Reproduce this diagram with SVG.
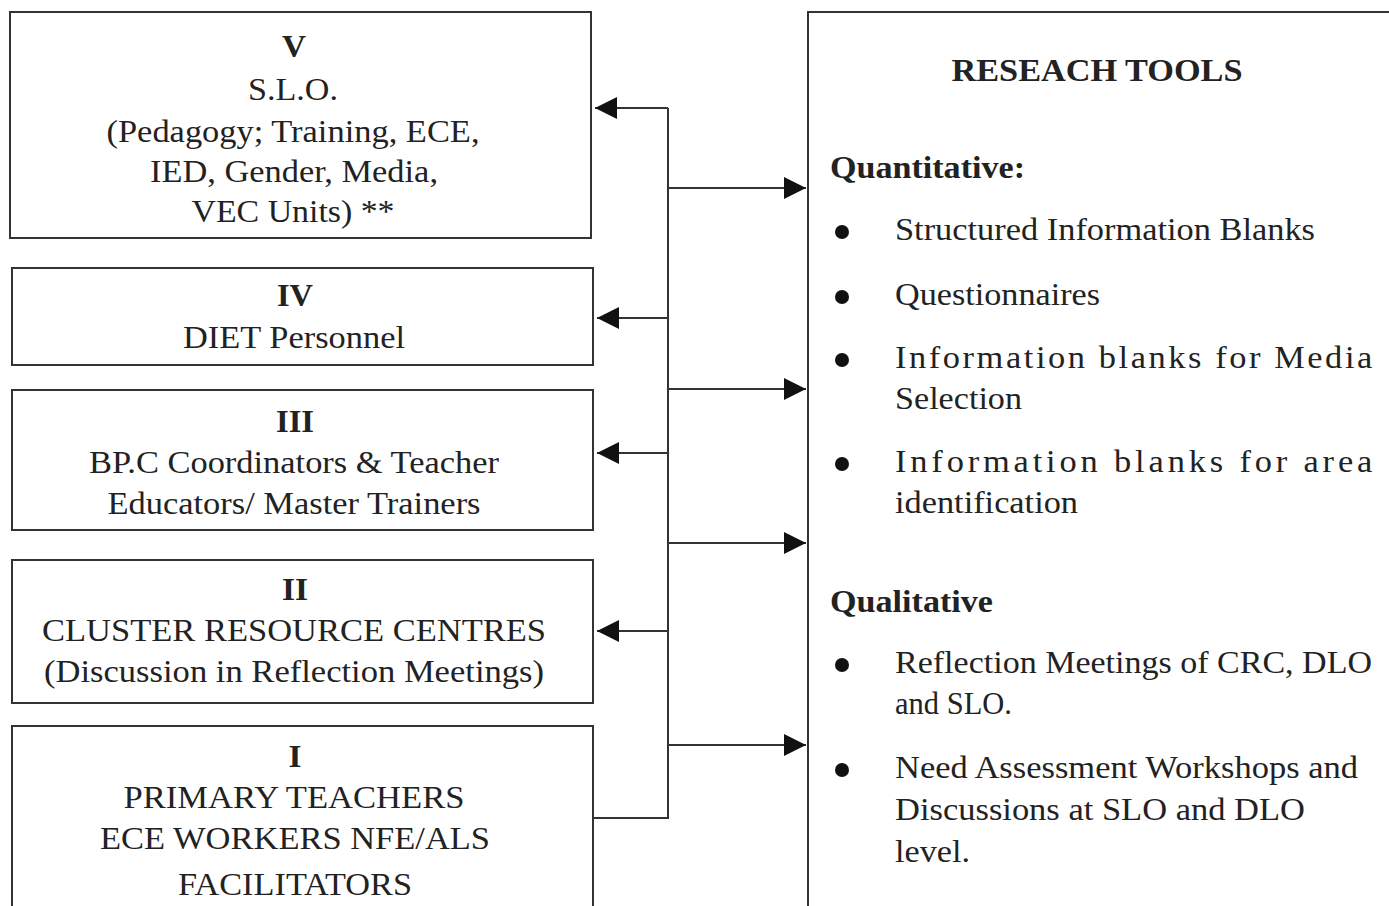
<svg xmlns="http://www.w3.org/2000/svg" width="1389" height="906" viewBox="0 0 1389 906">
<defs>
<style>
.box{fill:#fff;stroke:#333;stroke-width:2}
.t{font-family:"Liberation Serif","Times New Roman",serif;font-size:31px;fill:#222}
.c{text-anchor:middle}
.b{font-weight:bold}
.ln{fill:none;stroke:#333;stroke-width:2}
</style>
<marker id="ah" viewBox="0 0 10 10" refX="10" refY="5" markerWidth="22" markerHeight="22" markerUnits="userSpaceOnUse" orient="auto">
<path d="M0,0 L10,5 L0,10 z" fill="#111"/>
</marker>
</defs>
<rect width="1389" height="906" fill="#fff"/>
<g id="node-v">
<rect class="box" x="10" y="12" width="581" height="226"/>
<text class="t c b" x="294" y="57" textLength="24" lengthAdjust="spacingAndGlyphs">V</text>
<text class="t c" x="293" y="100" textLength="90" lengthAdjust="spacingAndGlyphs">S.L.O.</text>
<text class="t c" x="293" y="142" textLength="373" lengthAdjust="spacingAndGlyphs">(Pedagogy; Training, ECE,</text>
<text class="t c" x="294" y="182" textLength="288" lengthAdjust="spacingAndGlyphs">IED, Gender, Media,</text>
<text class="t c" x="293" y="222" textLength="203" lengthAdjust="spacingAndGlyphs">VEC Units) **</text>
</g>
<g id="node-iv">
<rect class="box" x="12" y="268" width="581" height="97"/>
<text class="t c b" x="295" y="306" textLength="36" lengthAdjust="spacingAndGlyphs">IV</text>
<text class="t c" x="294" y="348" textLength="222" lengthAdjust="spacingAndGlyphs">DIET Personnel</text>
</g>
<g id="node-iii">
<rect class="box" x="12" y="390" width="581" height="140"/>
<text class="t c b" x="295" y="432" textLength="38" lengthAdjust="spacingAndGlyphs">III</text>
<text class="t c" x="294" y="473" textLength="410" lengthAdjust="spacingAndGlyphs">BP.C Coordinators &amp; Teacher</text>
<text class="t c" x="294" y="514" textLength="373" lengthAdjust="spacingAndGlyphs">Educators/ Master Trainers</text>
</g>
<g id="node-ii">
<rect class="box" x="12" y="560" width="581" height="143"/>
<text class="t c b" x="295" y="600" textLength="26" lengthAdjust="spacingAndGlyphs">II</text>
<text class="t c" x="294" y="641" textLength="504" lengthAdjust="spacingAndGlyphs">CLUSTER RESOURCE CENTRES</text>
<text class="t c" x="294" y="682" textLength="500" lengthAdjust="spacingAndGlyphs">(Discussion in Reflection Meetings)</text>
</g>
<g id="node-i">
<rect class="box" x="12" y="726" width="581" height="200"/>
<text class="t c b" x="295" y="767" textLength="13" lengthAdjust="spacingAndGlyphs">I</text>
<text class="t c" x="294" y="808" textLength="341" lengthAdjust="spacingAndGlyphs">PRIMARY TEACHERS</text>
<text class="t c" x="295" y="849" textLength="390" lengthAdjust="spacingAndGlyphs">ECE WORKERS NFE/ALS</text>
<text class="t c" x="295" y="895" textLength="234" lengthAdjust="spacingAndGlyphs">FACILITATORS</text>
</g>
<g id="node-tools">
<rect class="box" x="808" y="12" width="600" height="920"/>
<text class="t c b" x="1097" y="81" textLength="291" lengthAdjust="spacingAndGlyphs">RESEACH TOOLS</text>
<text class="t b" x="830" y="178" textLength="195" lengthAdjust="spacingAndGlyphs">Quantitative:</text>
<circle cx="842" cy="232" r="7" fill="#111"/>
<text class="t" x="895" y="240" textLength="420" lengthAdjust="spacingAndGlyphs">Structured Information Blanks</text>
<circle cx="842" cy="297" r="7" fill="#111"/>
<text class="t" x="895" y="305" textLength="205" lengthAdjust="spacingAndGlyphs">Questionnaires</text>
<circle cx="842" cy="360" r="7" fill="#111"/>
<text class="t" transform="translate(895,368) scale(1.11,1)" x="0" y="0" textLength="430" lengthAdjust="spacing">Information blanks for Media</text>
<text class="t" x="895" y="409" textLength="127" lengthAdjust="spacingAndGlyphs">Selection</text>
<circle cx="842" cy="464" r="7" fill="#111"/>
<text class="t" transform="translate(895,472) scale(1.11,1)" x="0" y="0" textLength="430" lengthAdjust="spacing">Information blanks for area</text>
<text class="t" x="895" y="513" textLength="183" lengthAdjust="spacingAndGlyphs">identification</text>
<text class="t b" x="830" y="612" textLength="163" lengthAdjust="spacingAndGlyphs">Qualitative</text>
<circle cx="842" cy="665" r="7" fill="#111"/>
<text class="t" x="895" y="673" textLength="477" lengthAdjust="spacingAndGlyphs">Reflection Meetings of CRC, DLO</text>
<text class="t" x="895" y="714" textLength="117" lengthAdjust="spacingAndGlyphs">and SLO.</text>
<circle cx="842" cy="770" r="7" fill="#111"/>
<text class="t" x="895" y="778" textLength="463" lengthAdjust="spacingAndGlyphs">Need Assessment Workshops and</text>
<text class="t" x="895" y="820" textLength="410" lengthAdjust="spacingAndGlyphs">Discussions at SLO and DLO</text>
<text class="t" x="895" y="862" textLength="75" lengthAdjust="spacingAndGlyphs">level.</text>
</g>
<g id="connectors">
<polyline class="ln" points="593,818 668,818 668,108"/>
<line class="ln" x1="668" y1="108" x2="595" y2="108" marker-end="url(#ah)"/>
<line class="ln" x1="668" y1="318" x2="597" y2="318" marker-end="url(#ah)"/>
<line class="ln" x1="668" y1="453" x2="597" y2="453" marker-end="url(#ah)"/>
<line class="ln" x1="668" y1="631" x2="597" y2="631" marker-end="url(#ah)"/>
<line class="ln" x1="668" y1="188" x2="806" y2="188" marker-end="url(#ah)"/>
<line class="ln" x1="668" y1="389" x2="806" y2="389" marker-end="url(#ah)"/>
<line class="ln" x1="668" y1="543" x2="806" y2="543" marker-end="url(#ah)"/>
<line class="ln" x1="668" y1="745" x2="806" y2="745" marker-end="url(#ah)"/>
</g>
</svg>
